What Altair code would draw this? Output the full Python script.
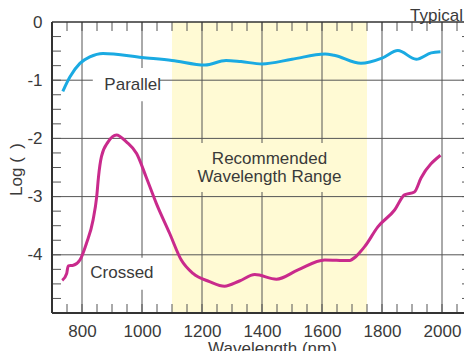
import altair as alt
import pandas as pd

# ---- data ----
par_nm = [736, 760, 793, 826, 870, 1000, 1100, 1210, 1280, 1330, 1400, 1500, 1610, 1640,
          1730, 1800, 1853, 1914, 1964, 1995]
par_val = [-1.19, -0.94, -0.71, -0.60, -0.54, -0.61, -0.66, -0.74, -0.66, -0.68, -0.72, -0.64,
           -0.55, -0.57, -0.71, -0.62, -0.49, -0.64, -0.53, -0.51]

crs_nm = [734, 749, 754, 771, 793, 815, 837, 849, 855, 865, 887, 915, 948, 982, 1015, 1048,
          1092, 1131, 1170, 1225, 1275, 1325, 1376, 1448, 1520, 1609, 1687, 1742, 1786, 1842,
          1875, 1908, 1930, 1995]
crs_val = [-4.44, -4.32, -4.19, -4.18, -4.09, -3.80, -3.40, -3.00, -2.66, -2.31, -2.06, -1.94,
           -2.06, -2.26, -2.68, -3.12, -3.63, -4.09, -4.32, -4.46, -4.54, -4.45, -4.34, -4.42,
           -4.26, -4.09, -4.10, -3.86, -3.52, -3.23, -2.97, -2.92, -2.68, -2.29]

x_ticks = [800, 1000, 1200, 1400, 1600, 1800, 2000]
y_ticks = [0, -1, -2, -3, -4]
x_minor = list(range(750, 2100, 50))
y_minor = [-0.25 * i for i in range(1, 20)]
band = [1100, 1750]
x_domain = [700, 2073.3]   # right part of the original frame is cut off
y_domain = [-5, 0]

FONT = "Liberation Sans"
W, H = 412, 291
BLUE = "#1aaae2"
MAG = "#c92a8c"
GRID = "#555555"
FRAME = "#333333"
TXT = "#3a3a3a"

xs = alt.Scale(domain=x_domain, nice=False, zero=False)
ys = alt.Scale(domain=y_domain, nice=False, zero=False)

AX_X = alt.Axis(
    values=x_ticks, labelExpr="'' + datum.value", grid=False, ticks=False, domain=False,
    labelFont=FONT, labelFontSize=17, labelColor=TXT, labelPadding=10,
    title="Wavelength (nm)", titleFont=FONT, titleFontSize=17, titleFontWeight="normal",
    titleColor=TXT, titleX=220, titleY=40, titleBaseline="alphabetic", titleAlign="center")
AX_Y = alt.Axis(
    values=y_ticks, labelExpr="'' + datum.value", grid=False, ticks=False, domain=False,
    labelFont=FONT, labelFontSize=17, labelColor=TXT, labelPadding=10,
    title="Log (\u2002)", titleFont=FONT, titleFontSize=17, titleFontWeight="normal",
    titleColor=TXT, titleX=-31, titleY=147, titleAngle=270, titleBaseline="alphabetic",
    titleAlign="center")


def X(f):
    return alt.X(f, scale=xs, axis=AX_X)


def Y(f):
    return alt.Y(f, scale=ys, axis=AX_Y)


curves = pd.DataFrame(
    {"nm": par_nm + crs_nm,
     "logT": par_val + crs_val,
     "series": ["Parallel"] * len(par_nm) + ["Crossed"] * len(crs_nm)}
)

band_layer = alt.Chart(pd.DataFrame({"a": [band[0]], "b": [band[1]], "lo": [-5], "hi": [0]})).mark_rect(
    color="#fffad4"
).encode(x=X("a:Q"), x2="b:Q", y=Y("lo:Q"), y2="hi:Q")

vgrid = alt.Chart(pd.DataFrame({"g": x_ticks})).mark_rule(color=GRID, strokeWidth=1).encode(
    x=X("g:Q"), y=alt.value(0), y2=alt.value(H))
hgrid = alt.Chart(pd.DataFrame({"g": y_ticks[1:]})).mark_rule(color=GRID, strokeWidth=1).encode(
    y=Y("g:Q"), x=alt.value(0), x2=alt.value(W))

TL = 9
top_t = alt.Chart(pd.DataFrame({"t": x_minor})).mark_rule(color=GRID, strokeWidth=1).encode(
    x=X("t:Q"), y=alt.value(0), y2=alt.value(TL))
bot_t = alt.Chart(pd.DataFrame({"t": x_minor})).mark_rule(color=GRID, strokeWidth=1).encode(
    x=X("t:Q"), y=alt.value(H), y2=alt.value(H - TL))
left_t = alt.Chart(pd.DataFrame({"t": y_minor})).mark_rule(color=GRID, strokeWidth=1).encode(
    y=Y("t:Q"), x=alt.value(0), x2=alt.value(TL))
right_t = alt.Chart(pd.DataFrame({"t": y_minor})).mark_rule(color=GRID, strokeWidth=1).encode(
    y=Y("t:Q"), x=alt.value(W - 2), x2=alt.value(W))

# frame (left, top, bottom; the right side lies outside the picture)
frame_l = alt.Chart(pd.DataFrame({"k": [0]})).mark_rule(color=FRAME, strokeWidth=2).encode(
    x=alt.value(0), y=alt.value(0), y2=alt.value(H))
frame_t = alt.Chart(pd.DataFrame({"k": [0]})).mark_rule(color=FRAME, strokeWidth=1.5).encode(
    y=alt.value(0), x=alt.value(0), x2=alt.value(W))
frame_b = alt.Chart(pd.DataFrame({"k": [0]})).mark_rule(color=FRAME, strokeWidth=2).encode(
    y=alt.value(H), x=alt.value(0), x2=alt.value(W))

# label background boxes
boxes = pd.DataFrame({
    "x1": [836, 833, 1159], "x2": [1059, 1059, 1691],
    "y1": [-0.79, -4.05, -2.08], "y2": [-1.36, -4.60, -2.92],
    "fill": ["#ffffff", "#ffffff", "#fffad4"],
})
box_layer = alt.Chart(boxes).mark_rect().encode(
    x=X("x1:Q"), x2="x2:Q", y=Y("y1:Q"), y2="y2:Q",
    color=alt.Color("fill:N", scale=None),
)

lines = alt.Chart(curves).mark_line(strokeWidth=3, interpolate="monotone").encode(
    x=X("nm:Q"), y=Y("logT:Q"),
    color=alt.Color("series:N", scale=alt.Scale(domain=["Parallel", "Crossed"], range=[BLUE, MAG]),
                    legend=None),
    detail="series:N",
)

labels = pd.DataFrame({
    "x": [969, 933, 1425, 1425],
    "y": [-1.08, -4.31, -2.354, -2.663],
    "t": ["Parallel", "Crossed", "Recommended", "Wavelength Range"],
})
label_layer = alt.Chart(labels).mark_text(
    font=FONT, fontSize=17, color=TXT, align="center", baseline="middle"
).encode(x=X("x:Q"), y=Y("y:Q"), text="t:N")

typ = alt.Chart(pd.DataFrame({"t": ["Typical"]})).mark_text(
    font=FONT, fontSize=17, color=TXT, align="right", baseline="alphabetic"
).encode(x=alt.value(W - 1), y=alt.value(-1.5), text="t:N")

chart = alt.layer(
    band_layer, vgrid, hgrid, top_t, bot_t, left_t, right_t, box_layer, lines,
    frame_l, frame_t, frame_b, label_layer, typ
).properties(
    width=W, height=H,
    padding={"left": 44, "top": 14, "right": 0, "bottom": 38},
    autosize=alt.AutoSizeParams(type="none"),
).configure_view(stroke=None)

chart.save("out.html", embed_options={"renderer": "svg", "actions": False})
